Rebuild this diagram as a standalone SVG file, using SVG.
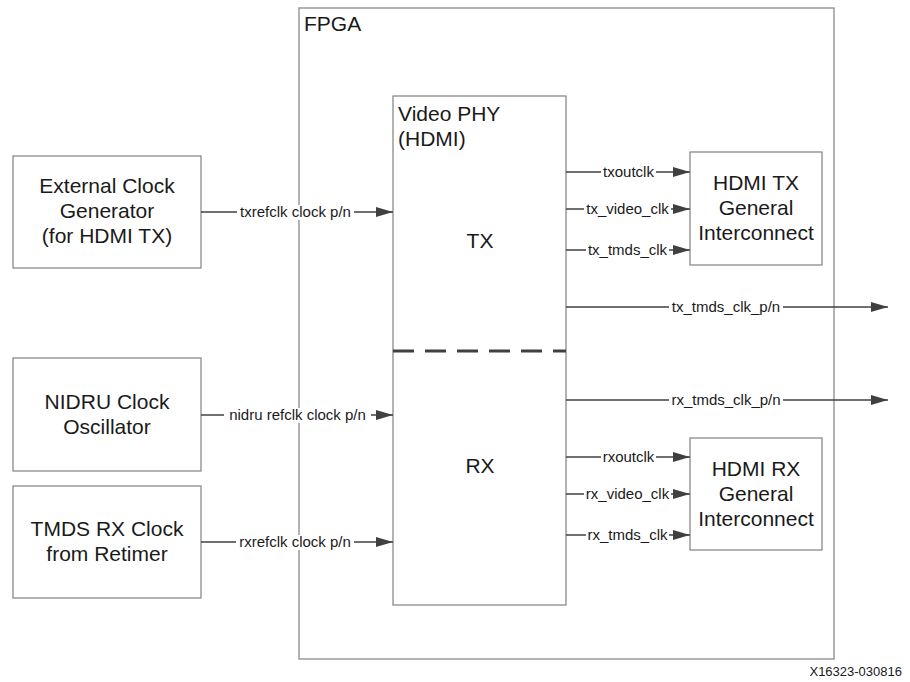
<svg xmlns="http://www.w3.org/2000/svg" width="910" height="682" viewBox="0 0 910 682">
<defs>
<marker id="ah" markerUnits="userSpaceOnUse" markerWidth="18" markerHeight="10" refX="17" refY="5" orient="auto">
<path d="M0,0 L17,5 L0,10 z" fill="#404040"/>
</marker>
<style>
.box{fill:#fff;stroke:#8a8a8a;stroke-width:1.3}
.big{font-family:"Liberation Sans",Arial,sans-serif;font-size:21px;fill:#1a1a1a}
.mid{text-anchor:middle}
.lbl{font-family:"Liberation Sans",Arial,sans-serif;font-size:15px;fill:#1a1a1a;text-anchor:middle}
.wire{stroke:#404040;stroke-width:1.3;fill:none;marker-end:url(#ah)}
.bg{fill:#fff}
</style>
</defs>
<rect width="910" height="682" fill="#fff"/>

<g id="fpga">
<rect class="box" x="299" y="8" width="535" height="651"/>
<text class="big" x="304" y="31">FPGA</text>
</g>

<g id="videophy">
<rect class="box" x="393" y="96" width="173" height="509"/>
<text class="big" x="398" y="121">Video PHY</text>
<text class="big" x="398" y="146">(HDMI)</text>
<text class="big mid" x="480" y="248">TX</text>
<text class="big mid" x="480" y="473">RX</text>
<line x1="393" y1="351" x2="566" y2="351" stroke="#404040" stroke-width="3" stroke-dasharray="21 11"/>
</g>

<g id="extclk">
<rect class="box" x="13" y="156" width="188" height="112"/>
<text class="big mid" x="107" y="193">External Clock</text>
<text class="big mid" x="107" y="218">Generator</text>
<text class="big mid" x="107" y="243">(for HDMI TX)</text>
</g>

<g id="nidru">
<rect class="box" x="13" y="358" width="188" height="113"/>
<text class="big mid" x="107" y="409">NIDRU Clock</text>
<text class="big mid" x="107" y="434">Oscillator</text>
</g>

<g id="tmdsrx">
<rect class="box" x="13" y="486" width="188" height="112"/>
<text class="big mid" x="107" y="536">TMDS RX Clock</text>
<text class="big mid" x="107" y="561">from Retimer</text>
</g>

<g id="hdmitx">
<rect class="box" x="690" y="152" width="132" height="113"/>
<text class="big mid" x="756" y="190">HDMI TX</text>
<text class="big mid" x="756" y="215">General</text>
<text class="big mid" x="756" y="240">Interconnect</text>
</g>

<g id="hdmirx">
<rect class="box" x="690" y="438" width="132" height="112"/>
<text class="big mid" x="756" y="476">HDMI RX</text>
<text class="big mid" x="756" y="501">General</text>
<text class="big mid" x="756" y="526">Interconnect</text>
</g>

<g id="connectors">
<line class="wire" x1="201" y1="212" x2="393" y2="212"/>
<line class="wire" x1="201" y1="415" x2="393" y2="415"/>
<line class="wire" x1="201" y1="542" x2="393" y2="542"/>
<line class="wire" x1="566" y1="172" x2="690" y2="172"/>
<line class="wire" x1="566" y1="209" x2="690" y2="209"/>
<line class="wire" x1="566" y1="250" x2="690" y2="250"/>
<line class="wire" x1="566" y1="307" x2="888" y2="307"/>
<line class="wire" x1="566" y1="400" x2="888" y2="400"/>
<line class="wire" x1="566" y1="457" x2="690" y2="457"/>
<line class="wire" x1="566" y1="494" x2="690" y2="494"/>
<line class="wire" x1="566" y1="535" x2="690" y2="535"/>

<rect class="bg" x="237" y="205" width="117" height="15"/>
<text class="lbl" x="295.5" y="217">txrefclk clock p/n</text>
<rect class="bg" x="224" y="408" width="147" height="15"/>
<text class="lbl" x="297.5" y="420">nidru refclk clock p/n</text>
<rect class="bg" x="236" y="535" width="118" height="15"/>
<text class="lbl" x="295" y="547">rxrefclk clock p/n</text>

<rect class="bg" x="601" y="165" width="55" height="15"/>
<text class="lbl" x="628.5" y="177">txoutclk</text>
<rect class="bg" x="584" y="202" width="87" height="15"/>
<text class="lbl" x="627.5" y="214">tx_video_clk</text>
<rect class="bg" x="586" y="243" width="83" height="15"/>
<text class="lbl" x="627.5" y="255">tx_tmds_clk</text>
<rect class="bg" x="669" y="300" width="114" height="15"/>
<text class="lbl" x="726" y="312">tx_tmds_clk_p/n</text>
<rect class="bg" x="669" y="393" width="114" height="15"/>
<text class="lbl" x="726" y="405">rx_tmds_clk_p/n</text>
<rect class="bg" x="601" y="450" width="55" height="15"/>
<text class="lbl" x="628.5" y="462">rxoutclk</text>
<rect class="bg" x="584" y="487" width="87" height="15"/>
<text class="lbl" x="627.5" y="499">rx_video_clk</text>
<rect class="bg" x="586" y="528" width="83" height="15"/>
<text class="lbl" x="627.5" y="540">rx_tmds_clk</text>
</g>

<text x="902" y="676" text-anchor="end" font-family="'Liberation Sans',Arial,sans-serif" font-size="13" fill="#1a1a1a">X16323-030816</text>
</svg>
